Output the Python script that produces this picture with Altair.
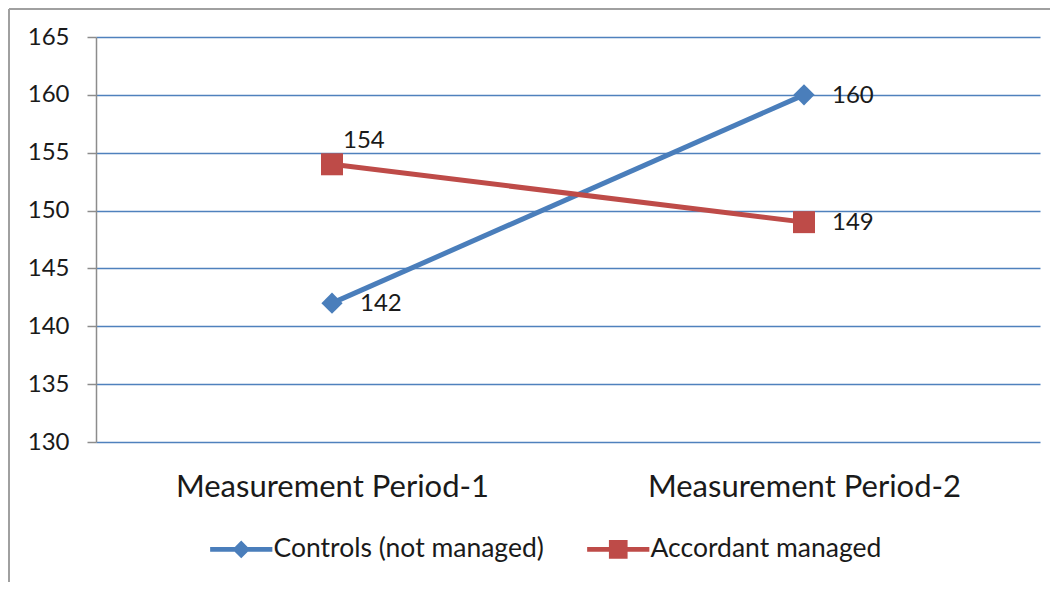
import altair as alt
import pandas as pd

categories = ["Measurement Period-1", "Measurement Period-2"]
series_names = ["Controls (not managed)", "Accordant managed"]
controls = [142, 160]
accordant = [154, 149]
y_ticks = [130, 135, 140, 145, 150, 155, 160, 165]

rows = []
for s, vals in zip(series_names, [controls, accordant]):
    for c, v in zip(categories, vals):
        rows.append({"period": c, "series": s, "value": v})
df = pd.DataFrame(rows)

BLUE = "#4a7ebb"
RED = "#be4b48"
GRID = "#4f81bd"
GRAY = "#8c8c8c"
TXT = "#1a1a1a"
FONT = "Lato"

# legend symbol paths (line + marker), unit coords scaled by sqrt(size)/2
P_DIAMOND = "M-3,-0.24L3,-0.24L3,0.24L-3,0.24Z M0,-0.85L0.85,0L0,0.85L-0.85,0Z"
P_SQUARE = "M-3,-0.24L3,-0.24L3,0.24L-3,0.24Z M-0.9,-0.9L0.9,-0.9L0.9,0.9L-0.9,0.9Z"

x = alt.X("period:N", sort=categories,
          scale=alt.Scale(type="point", padding=0.5),
          axis=alt.Axis(title=None, labelAngle=0, domain=False, ticks=False, tickSize=0,
                        labelFontSize=31, labelPadding=30, labelColor=TXT, labelFont=FONT,
                        labelLimit=0, grid=False))
y = alt.Y("value:Q", scale=alt.Scale(domain=[130, 165], nice=False, zero=False),
          axis=alt.Axis(title=None, values=y_ticks, grid=True, gridColor=GRID, gridWidth=1.3,
                        domainColor=GRAY, domainWidth=1.5, tickColor=GRAY, tickSize=9,
                        tickWidth=1.5, labelFontSize=24, labelPadding=18, labelFont=FONT,
                        labelColor=TXT))

base = alt.Chart(df)
layers = []
for s, col, shp, sz in [(series_names[0], BLUE, "diamond", 450), (series_names[1], RED, "square", 484)]:
    sub = base.transform_filter(alt.datum.series == s)
    layers.append(sub.mark_line(strokeWidth=5, color=col).encode(x=x, y=y))
    layers.append(sub.mark_point(shape=shp, filled=True, size=sz, opacity=1, color=col).encode(x=x, y=y))

lab_right = base.transform_filter(
    "!(datum.series == 'Accordant managed' && datum.period == 'Measurement Period-1')"
).mark_text(align="left", baseline="middle", dx=28, dy=1, fontSize=24, font=FONT, color=TXT).encode(
    x=x, y=y, text="value:Q")
lab_above = base.transform_filter(
    "datum.series == 'Accordant managed' && datum.period == 'Measurement Period-1'"
).mark_text(align="left", baseline="middle", dx=11, dy=-23, fontSize=24, font=FONT, color=TXT).encode(
    x=x, y=y, text="value:Q")

leg = dict(orient="none", legendX=132, legendY=499, direction="horizontal", title=None,
           labelFontSize=26.5, labelFont=FONT, labelColor=TXT, symbolSize=430,
           labelOffset=19, columnPadding=43, symbolOpacity=1, symbolStrokeWidth=0,
           padding=0, labelLimit=0)
legend_layer = base.mark_point(filled=True, size=430, opacity=0).encode(
    x=x, y=y,
    color=alt.Color("series:N", scale=alt.Scale(domain=series_names, range=[BLUE, RED]),
                    legend=alt.Legend(**leg)),
    shape=alt.Shape("series:N", scale=alt.Scale(domain=series_names, range=[P_DIAMOND, P_SQUARE]),
                    legend=alt.Legend(**leg)))

one = alt.Data(values=[{"k": 1}])
frame_left = alt.Chart(one).mark_rule(color="#a0a0a0", strokeWidth=2).encode(
    x=alt.value(-87), y=alt.value(-28), y2=alt.value(545))
frame_top = alt.Chart(one).mark_rule(color="#a0a0a0", strokeWidth=2).encode(
    x=alt.value(-87), x2=alt.value(960), y=alt.value(-28))

chart = alt.layer(*layers, lab_right, lab_above, legend_layer, frame_left, frame_top).properties(
    width=944, height=405,
    autosize=alt.AutoSizeParams(type="none"),
    padding={"left": 88, "top": 29, "right": 10, "bottom": 140},
    background="white",
).configure_view(stroke=None)

chart.save("out.html", embed_options={"renderer": "svg", "actions": False})
